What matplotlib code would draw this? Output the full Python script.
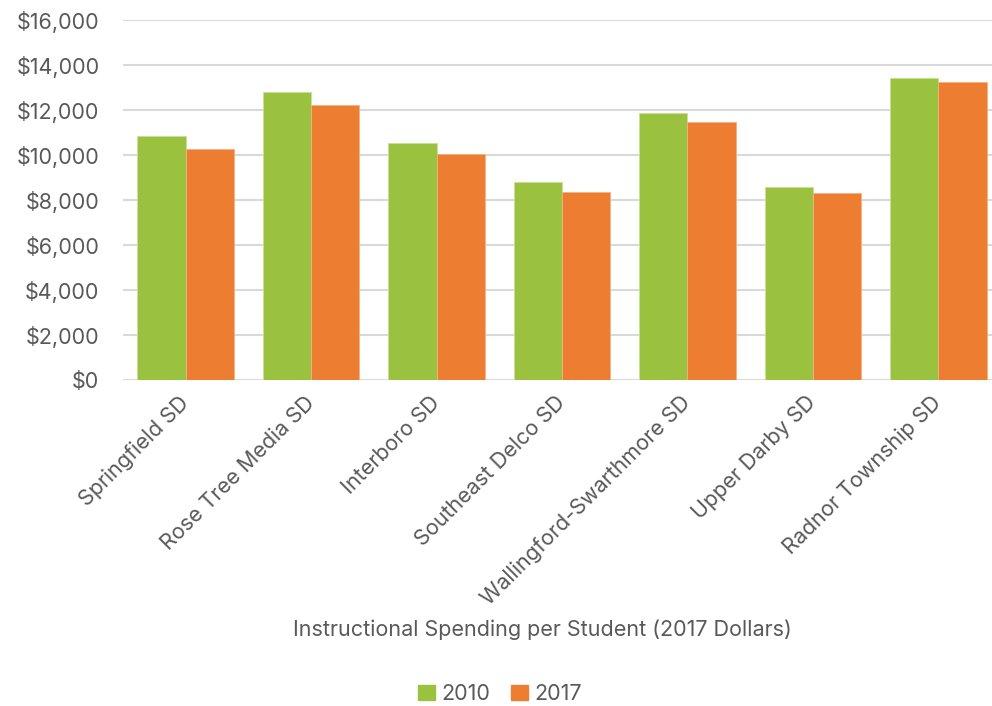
import matplotlib.pyplot as plt
import numpy as np
from matplotlib.patches import Patch
from matplotlib.ticker import FuncFormatter

plt.rcParams['font.family'] = ['Inter', 'DejaVu Sans']

districts = ["Springfield SD", "Rose Tree Media SD", "Interboro SD", "Southeast Delco SD",
             "Wallingford-Swarthmore SD", "Upper Darby SD", "Radnor Township SD"]
spend_2010 = [10830, 12790, 10530, 8800, 11870, 8580, 13420]
spend_2017 = [10250, 12210, 10030, 8370, 11480, 8300, 13240]

green = "#9BC23F"
orange = "#ED7D31"
grey_txt = "#595959"
fs = 15.5

fig = plt.figure(figsize=(9.92, 7.06), dpi=100)
ax = fig.add_axes([123/992, 326/706, 878/992, 360/706])

x = np.arange(len(districts))
w = 0.385
ax.bar(x - w/2, spend_2010, w, color=green, edgecolor="#c9e09a", linewidth=0.6, zorder=3)
ax.bar(x + w/2, spend_2017, w, color=orange, edgecolor="#f5b085", linewidth=0.6, zorder=3)

ax.set_xlim(-0.5, 6.5)
ax.set_ylim(0, 16000)
ax.set_yticks(np.arange(0, 16001, 2000))
ax.yaxis.set_major_formatter(FuncFormatter(lambda v, p: "${:,.0f}".format(v)))
ax.grid(axis="y", color="#d9d9d9", linewidth=1.5, zorder=0)
for s in ax.spines.values():
    s.set_visible(False)
ax.tick_params(axis="both", length=0, colors=grey_txt, labelsize=fs)
ax.tick_params(axis="y", pad=17)

ax.set_xticks(x)
ax.set_xticklabels(districts, rotation=45, ha="right", va="center", rotation_mode="anchor")
ax.tick_params(axis="x", pad=14)

fig.text(542/992, 1 - 630/706, "Instructional Spending per Student (2017 Dollars)",
         ha="center", va="center", fontsize=fs, color=grey_txt)

handles = [Patch(color=green, label="2010"), Patch(color=orange, label="2017")]
fig.legend(handles=handles, loc="center", bbox_to_anchor=(500/992, 1 - 694/706), ncol=2,
           frameon=False, fontsize=fs, labelcolor=grey_txt, handlelength=0.75, handleheight=0.75,
           handletextpad=0.3, columnspacing=1.0)

fig.savefig("out.png", dpi=100)
